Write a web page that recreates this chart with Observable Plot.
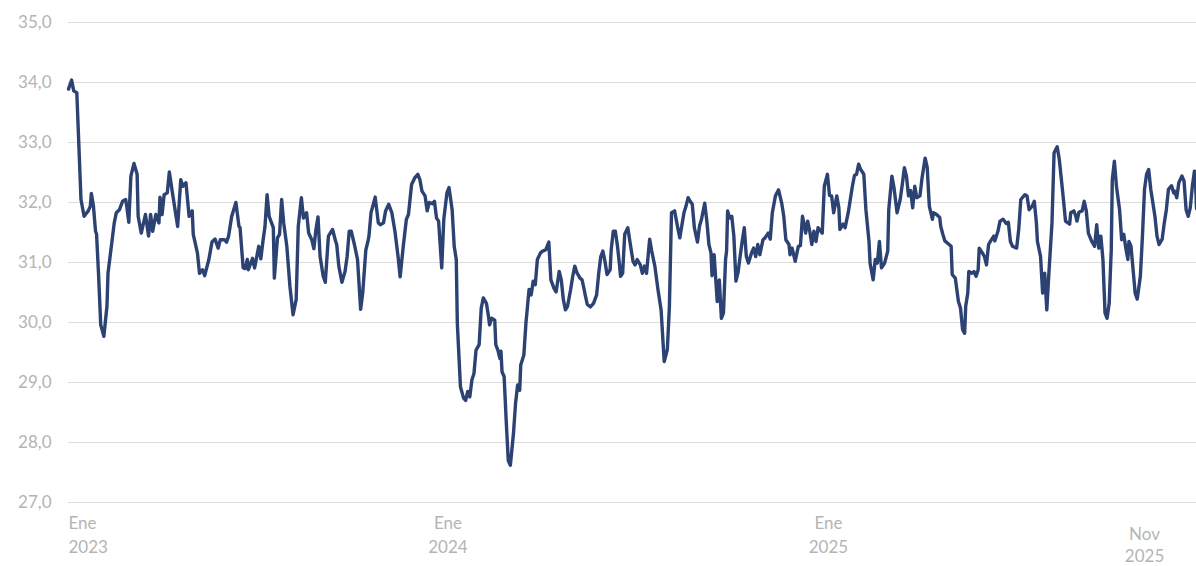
<!DOCTYPE html>
<html>
<head>
<meta charset="utf-8">
<script src="https://cdn.jsdelivr.net/npm/d3@7"></script>
<script src="https://cdn.jsdelivr.net/npm/@observablehq/plot@0.6"></script>
<style>
  html, body { margin: 0; padding: 0; background: #fff; }
  #chart { width: 1196px; height: 566px; }
</style>
</head>
<body>
<div id="chart"></div>
<script>
// ---- Data ----
const dates2023 = ["01-01","01-04","01-06","01-09","01-13","01-16","01-20","01-22","01-23","01-25","01-27","01-28","01-30","02-01","02-04","02-07","02-08","02-11","02-14","02-16","02-19","02-22","02-25","02-26","02-28","03-02","03-05","03-08","03-09","03-12","03-16","03-19","03-21","03-23","03-26","03-29","03-30","04-01","04-03","04-06","04-08","04-11","04-16","04-19","04-21","04-24","04-27","04-30","05-01","05-05","05-07","05-10","05-12","05-16","05-19","05-22","05-25","05-27","05-31","06-02","06-04","06-07","06-11","06-14","06-15","06-18","06-20","06-22","06-23","06-27","06-29","07-03","07-05","07-07","07-09","07-11","07-13","07-17","07-18","07-21","07-23","07-25","07-27","07-30","08-02","08-05","08-08","08-10","08-13","08-15","08-18","08-20","08-23","08-25","08-27","08-29","08-31","09-03","09-05","09-08","09-12","09-15","09-16","09-18","09-21","09-24","09-26","09-28","09-30","10-03","10-06","10-09","10-11","10-14","10-16","10-17","10-19","10-23","10-26","10-28","10-31","11-02","11-05","11-08","11-11","11-14","11-16","11-19","11-22","11-24","11-27","11-30","12-03","12-05","12-07","12-10","12-12","12-14","12-17","12-19","12-21","12-23","12-26","12-28","12-31"];
const values2023 = [33.89,34.04,33.86,33.83,32.05,31.77,31.86,31.94,32.15,31.94,31.52,31.47,30.77,29.96,29.77,30.27,30.82,31.24,31.66,31.83,31.88,32.02,32.05,31.94,31.67,32.44,32.65,32.47,31.77,31.49,31.80,31.44,31.80,31.52,31.80,31.66,32.09,31.80,32.13,32.16,32.51,32.16,31.60,32.38,32.27,32.33,31.77,31.86,31.47,31.16,30.82,30.88,30.78,31.05,31.34,31.39,31.24,31.38,31.38,31.34,31.44,31.77,32.00,31.60,31.58,30.91,30.90,31.05,30.88,31.07,30.91,31.27,31.06,31.35,31.60,32.13,31.77,31.58,30.74,31.41,31.47,32.05,31.66,31.27,30.60,30.13,30.38,31.60,32.08,31.74,31.83,31.49,31.38,31.23,31.55,31.76,31.10,30.77,30.67,31.44,31.55,31.35,31.30,30.94,30.67,30.85,31.10,31.52,31.52,31.30,31.05,30.22,30.49,31.21,31.35,31.44,31.83,32.09,31.66,31.63,31.66,31.86,31.97,31.83,31.52,31.10,30.76,31.27,31.72,31.80,32.30,32.41,32.47,32.38,32.19,32.11,31.86,32.00,31.98,32.02,31.74,31.69,30.91,31.72,32.16];

const dates2024 = ["01-02","01-05","01-07","01-09","01-10","01-13","01-16","01-18","01-20","01-22","01-24","01-26","01-28","01-31","02-02","02-04","02-07","02-09","02-10","02-12","02-15","02-16","02-18","02-20","02-21","02-22","02-24","02-26","02-28","03-01","03-04","03-06","03-08","03-10","03-11","03-14","03-16","03-19","03-21","03-23","03-25","03-27","03-30","04-01","04-04","04-07","04-09","04-12","04-14","04-17","04-19","04-21","04-23","04-25","04-28","04-30","05-02","05-04","05-07","05-09","05-11","05-12","05-14","05-17","05-20","05-23","05-25","05-27","05-29","05-31","06-02","06-05","06-06","06-08","06-10","06-12","06-14","06-15","06-17","06-19","06-22","06-24","06-27","06-29","07-01","07-04","07-06","07-08","07-10","07-13","07-15","07-18","07-21","07-24","07-27","07-30","08-01","08-03","08-06","08-09","08-11","08-15","08-17","08-19","08-21","08-23","08-25","08-28","08-30","09-01","09-04","09-06","09-08","09-10","09-11","09-13","09-16","09-18","09-20","09-22","09-24","09-25","09-26","09-28","09-30","10-02","10-04","10-06","10-08","10-10","10-12","10-14","10-16","10-19","10-21","10-23","10-25","10-27","10-30","11-01","11-04","11-06","11-08","11-11","11-14","11-17","11-19","11-21","11-24","11-25","11-27","11-30","12-03","12-05","12-07","12-09","12-10","12-12","12-14","12-16","12-18","12-20","12-22","12-26","12-28","12-31"];
const values2024 = [32.25,31.88,31.27,31.05,29.99,28.93,28.74,28.70,28.85,28.76,29.04,29.15,29.54,29.63,30.24,30.41,30.32,30.10,29.96,30.07,30.04,29.63,29.54,29.40,29.52,29.18,29.10,28.37,27.70,27.62,28.15,28.65,28.96,28.87,29.29,29.46,29.99,30.55,30.46,30.69,30.63,31.05,31.16,31.19,31.21,31.34,30.71,30.57,30.51,30.85,30.71,30.38,30.21,30.27,30.55,30.77,30.94,30.83,30.74,30.71,30.55,30.46,30.30,30.26,30.32,30.46,30.82,31.10,31.19,31.02,30.80,30.88,31.21,31.52,31.52,31.28,30.96,30.77,30.82,31.47,31.58,31.35,31.02,30.96,31.05,30.96,30.82,30.94,30.82,31.39,31.19,30.94,30.55,30.21,29.35,29.55,30.27,31.83,31.86,31.58,31.41,31.83,31.94,32.08,32.02,31.97,31.58,31.34,31.61,31.73,31.99,31.69,31.30,31.16,30.78,31.13,30.35,30.71,30.07,30.16,31.05,31.19,31.86,31.74,31.77,31.44,30.69,30.83,31.10,31.35,31.58,31.10,30.99,31.16,31.24,31.10,31.30,31.13,31.38,31.41,31.49,31.39,31.83,32.11,32.21,31.99,31.77,31.38,31.30,31.13,31.24,31.02,31.27,31.28,31.77,31.60,31.49,31.69,31.52,31.30,31.52,31.35,31.58,31.49,32.27,32.47];

const dates2025 = ["01-02","01-04","01-06","01-09","01-11","01-12","01-15","01-17","01-20","01-24","01-26","01-28","01-30","02-01","02-04","02-06","02-09","02-10","02-13","02-15","02-17","02-19","02-21","02-24","02-27","02-28","03-03","03-05","03-08","03-11","03-13","03-15","03-17","03-19","03-21","03-23","03-25","03-27","03-30","04-01","04-04","04-06","04-08","04-11","04-12","04-15","04-18","04-19","04-21","04-23","04-27","04-29","04-30","05-03","05-06","05-08","05-10","05-12","05-13","05-15","05-16","05-19","05-21","05-23","05-25","05-26","05-29","05-31","06-02","06-04","06-06","06-09","06-10","06-13","06-15","06-18","06-21","06-23","06-25","06-27","07-01","07-03","07-05","07-09","07-11","07-13","07-16","07-18","07-20","07-21","07-24","07-26","07-28","07-30","08-01","08-04","08-06","08-09","08-11","08-14","08-15","08-17","08-21","08-22","08-25","08-27","08-28","08-30","09-02","09-04","09-06","09-08","09-11","09-14","09-16","09-18","09-20","09-22","09-24","09-26","09-28","09-30","10-01","10-03","10-05","10-08","10-10","10-12","10-14","10-16","10-17","10-19","10-21","10-23","10-25","10-28","10-30","11-01","11-03","11-05","11-07","11-11","11-13","11-15","11-18","11-20","11-22","11-24","11-27","11-29","11-30","12-02","12-04","12-07","12-09","12-11","12-13","12-15","12-17","12-19","12-20","12-21"];
const values2025 = [32.12,32.11,31.83,32.11,31.91,31.55,31.64,31.58,31.83,32.27,32.45,32.47,32.64,32.55,32.47,31.88,31.35,30.99,30.71,31.05,30.99,31.35,30.91,30.99,31.19,31.88,32.44,32.25,31.83,32.05,32.30,32.58,32.44,32.11,32.20,31.91,32.27,32.08,32.11,32.41,32.74,32.58,31.94,31.72,31.83,31.80,31.75,31.60,31.47,31.36,31.30,31.27,30.80,30.74,30.35,30.24,29.88,29.82,30.27,30.49,30.85,30.82,30.85,30.77,30.88,31.24,31.16,31.10,30.96,31.30,31.36,31.44,31.36,31.52,31.69,31.72,31.65,31.67,31.35,31.27,31.24,31.55,32.05,32.13,32.11,31.88,31.94,32.02,31.66,31.35,31.10,30.49,30.82,30.21,30.82,31.66,32.83,32.93,32.72,32.22,32.05,31.69,31.64,31.83,31.86,31.77,31.69,31.84,31.86,32.02,31.86,31.49,31.36,31.27,31.63,31.24,31.44,31.05,30.16,30.07,30.32,31.21,32.38,32.69,32.27,31.88,31.38,31.47,31.24,31.05,31.35,31.27,30.88,30.49,30.39,30.77,31.44,32.22,32.47,32.55,32.22,31.77,31.44,31.30,31.39,31.66,31.88,32.22,32.28,32.16,32.19,32.08,32.33,32.44,32.36,31.88,31.77,31.91,32.27,32.52,32.38,31.90];

const yTicks = [27, 28, 29, 30, 31, 32, 33, 34, 35];
const xTickDates = ["2023-01-01", "2024-01-01", "2025-01-01", "2025-11-01"];
const xTickLabels = ["Ene\n2023", "Ene\n2024", "Ene\n2025", "Nov\n2025"];
const xDomain = ["2023-01-01", "2025-12-21"];

// ---- Build table ----
const parse = d3.utcParse("%Y-%m-%d");
const series = [];
[[2023, dates2023, values2023], [2024, dates2024, values2024], [2025, dates2025, values2025]]
  .forEach(([yr, ds, vs]) => ds.forEach((md, i) => series.push({date: parse(`${yr}-${md}`), value: vs[i]})));

const ticks = xTickDates.map((d, i) => ({date: parse(d), label: xTickLabels[i]}));

const lineColor = "#2c4273";
const labelColor = "#b4b4b4";
const fontSize = 17;

const chart = Plot.plot({
  width: 1196,
  height: 566,
  marginTop: 22,
  marginRight: 0,
  marginBottom: 64,
  marginLeft: 68,
  style: {fontFamily: "Lato, 'Open Sans', sans-serif", background: "#fff"},
  x: {type: "utc", domain: xDomain.map(parse), label: null, axis: null},
  y: {domain: [27, 35], label: null, axis: null},
  marks: [
    Plot.gridY(yTicks, {stroke: "#dcdcdc", strokeOpacity: 1, strokeWidth: 1}),
    Plot.axisY(yTicks, {
      tickSize: 0, tickPadding: 17, fontSize, color: labelColor,
      tickFormat: d => d.toFixed(1).replace(".", ","), label: null
    }),
    Plot.line(series, {x: "date", y: "value", stroke: lineColor, strokeWidth: 3.4,
      strokeLinejoin: "round", strokeLinecap: "round"}),
    Plot.text(ticks.slice(0, 1), {x: "date", text: "label", frameAnchor: "bottom",
      lineAnchor: "top", dy: 10, lineHeight: 1.4, textAnchor: "start",
      fontSize, fill: labelColor}),
    Plot.text(ticks.slice(1, 3), {x: "date", text: "label", frameAnchor: "bottom",
      lineAnchor: "top", dy: 10, lineHeight: 1.4, textAnchor: "middle",
      fontSize, fill: labelColor}),
    Plot.text(ticks.slice(3), {x: "date", text: "label", frameAnchor: "bottom",
      lineAnchor: "top", dy: 22, lineHeight: 1.3, textAnchor: "middle",
      fontSize, fill: labelColor})
  ]
});
document.getElementById("chart").appendChild(chart);
</script>
</body>
</html>
